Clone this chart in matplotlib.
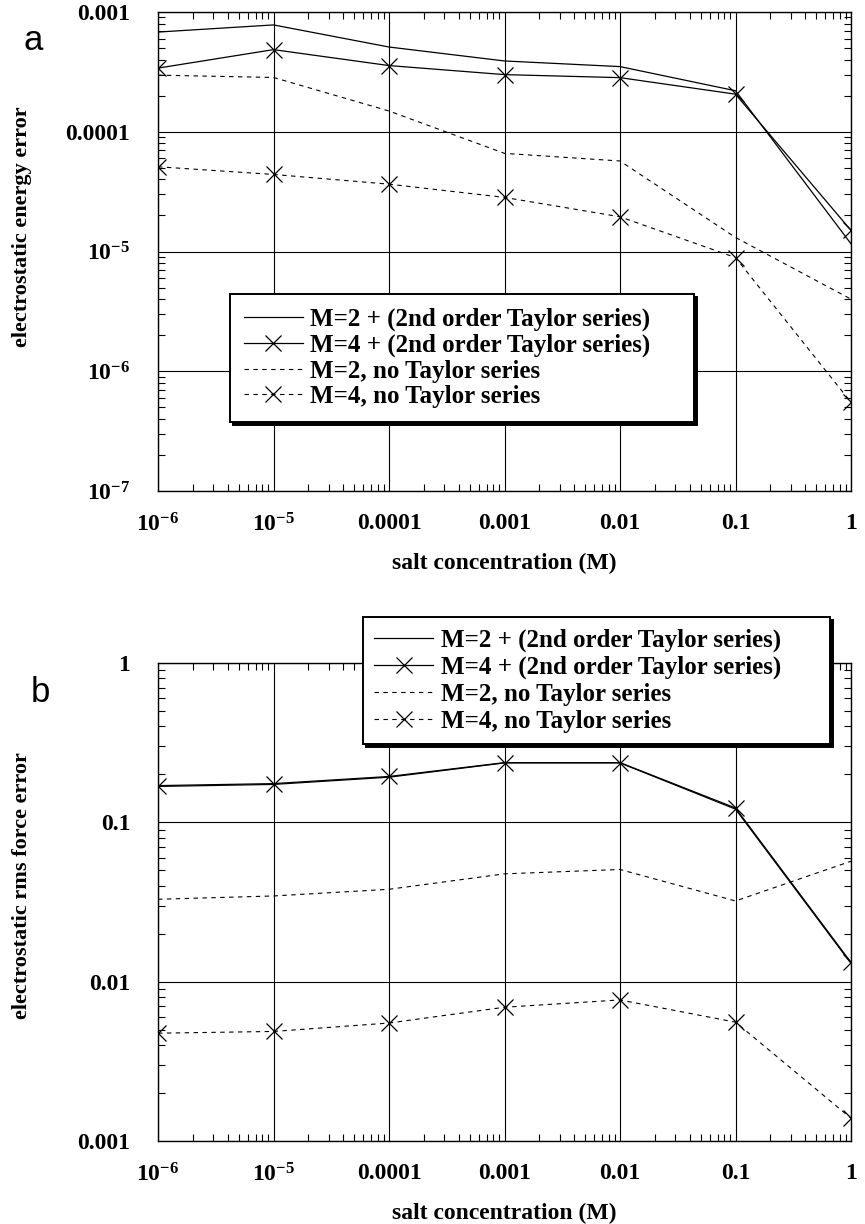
import numpy as np
import matplotlib
matplotlib.use('Agg')
import matplotlib.pyplot as plt
from matplotlib.ticker import FixedLocator, FixedFormatter, LogLocator, NullFormatter

plt.rcParams['mathtext.fontset'] = 'custom'
plt.rcParams['mathtext.rm'] = 'Liberation Serif'
plt.rcParams['mathtext.bf'] = 'Liberation Serif:bold'

# salt concentration (M)
conc = [1e-6, 1e-5, 1e-4, 1e-3, 1e-2, 1e-1, 1.0]
x_labels = [r'$\mathbf{10^{-6}}$', r'$\mathbf{10^{-5}}$', '0.0001', '0.001', '0.01', '0.1', '1']

# panel a: electrostatic energy error
a_m2_taylor = [6.8e-4, 7.8e-4, 5.1e-4, 3.9e-4, 3.5e-4, 2.2e-4, 1.16e-5]
a_m4_taylor = [3.4e-4, 4.85e-4, 3.57e-4, 3.0e-4, 2.83e-4, 2.06e-4, 1.5e-5]
a_m2_plain = [2.97e-4, 2.84e-4, 1.49e-4, 6.6e-5, 5.7e-5, 1.31e-5, 4.0e-6]
a_m4_plain = [5.1e-5, 4.4e-5, 3.65e-5, 2.83e-5, 1.95e-5, 8.9e-6, 5.5e-7]
a_yticks = [1e-7, 1e-6, 1e-5, 1e-4, 1e-3]
a_ylabels = [r'$\mathbf{10^{-7}}$', r'$\mathbf{10^{-6}}$', r'$\mathbf{10^{-5}}$', '0.0001', '0.001']

# panel b: electrostatic rms force error
b_m2_taylor = [0.168, 0.173, 0.192, 0.236, 0.236, 0.121, 0.013]
b_m4_taylor = [0.170, 0.175, 0.194, 0.237, 0.237, 0.123, 0.0132]
b_m2_plain = [0.0329, 0.0345, 0.038, 0.0475, 0.0506, 0.0321, 0.057]
b_m4_plain = [0.00475, 0.00487, 0.0055, 0.00691, 0.00768, 0.00557, 0.00139]
b_yticks = [1e-3, 1e-2, 1e-1, 1]
b_ylabels = ['0.001', '0.01', '0.1', '1']

labels = ['M=2 + (2nd order Taylor series)', 'M=4 + (2nd order Taylor series)',
          'M=2, no Taylor series', 'M=4, no Taylor series']

serif = 'Liberation Serif'
W, H = 865, 1224

fig = plt.figure(figsize=(8.65, 12.24), dpi=100)
ax_a = fig.add_axes([158/W, 1 - 491/H, 693/W, 479/H])
ax_b = fig.add_axes([158/W, 1 - 1141/H, 693/W, 478/H])


def style_axis(ax, yticks, ylabels, ylim):
    ax.set_xscale('log')
    ax.set_yscale('log')
    ax.set_xlim(1e-6, 1)
    ax.set_ylim(*ylim)
    ax.xaxis.set_major_locator(FixedLocator(conc))
    ax.xaxis.set_major_formatter(FixedFormatter(x_labels))
    ax.yaxis.set_major_locator(FixedLocator(yticks))
    ax.yaxis.set_major_formatter(FixedFormatter(ylabels))
    ax.xaxis.set_minor_locator(LogLocator(base=10, subs=np.arange(2, 10)))
    ax.yaxis.set_minor_locator(LogLocator(base=10, subs=np.arange(2, 10)))
    ax.xaxis.set_minor_formatter(NullFormatter())
    ax.yaxis.set_minor_formatter(NullFormatter())
    ax.tick_params(which='both', direction='in', top=True, right=True, width=0.8)
    ax.tick_params(which='major', length=0)
    ax.tick_params(axis='y', which='major', pad=20)
    ax.tick_params(axis='x', which='major', pad=16)
    ax.tick_params(which='minor', length=5)
    for lab in ax.get_xticklabels() + ax.get_yticklabels():
        lab.set_fontfamily(serif)
        lab.set_fontweight('bold')
        lab.set_fontsize(17)
    ax.grid(True, which='major', color='black', linewidth=0.8)
    for s in ax.spines.values():
        s.set_linewidth(1.0)
    ax.set_xlabel('salt concentration (M)', fontfamily=serif, fontweight='bold',
                  fontsize=17, labelpad=12)


def plot_series(ax, s1, s2, s3, s4):
    ax.plot(conc, s1, color='black', lw=0.9, label=labels[0])
    ax.plot(conc, s2, color='black', lw=0.9, marker='x', ms=11, mew=0.9, label=labels[1])
    ax.plot(conc, s3, color='black', lw=0.8, ls=(0, (4, 4)), label=labels[2])
    ax.plot(conc, s4, color='black', lw=0.8, ls=(0, (4, 4)), marker='x', ms=11, mew=0.9,
            label=labels[3])


plot_series(ax_a, a_m2_taylor, a_m4_taylor, a_m2_plain, a_m4_plain)
style_axis(ax_a, a_yticks, a_ylabels, (1e-7, 1e-3))
plot_series(ax_b, b_m2_taylor, b_m4_taylor, b_m2_plain, b_m4_plain)
style_axis(ax_b, b_yticks, b_ylabels, (1e-3, 1))

leg_kw = dict(loc='upper left', mode='expand', frameon=True, fancybox=False, framealpha=1,
              edgecolor='black', shadow={'color': 'black', 'alpha': 1},
              prop={'family': serif, 'weight': 'bold', 'size': 18},
              handlelength=2.35, handletextpad=0.3, borderaxespad=0)

leg_a = ax_a.legend(bbox_to_anchor=(0.104, 0.211, 0.670, 0.2), labelspacing=0.1,
                    borderpad=0.55, **leg_kw)
leg_a.get_frame().set_linewidth(1.4)

leg_b = ax_b.legend(bbox_to_anchor=(0.296, 0.896, 0.674, 0.2), labelspacing=0.16,
                    borderpad=0.45, **leg_kw)
leg_b.get_frame().set_linewidth(1.4)

fig.text(22/W, 1 - 227/H, 'electrostatic energy error', rotation=90, ha='center', va='center',
         fontfamily=serif, fontweight='bold', fontsize=16)
fig.text(22/W, 1 - 886/H, 'electrostatic rms force error', rotation=90, ha='center', va='center',
         fontfamily=serif, fontweight='bold', fontsize=16)
fig.text(33/W, 1 - 40/H, 'a', ha='center', va='center', fontfamily='Liberation Sans', fontsize=25)
fig.text(40/W, 1 - 692/H, 'b', ha='center', va='center', fontfamily='Liberation Sans', fontsize=25)

fig.savefig('out.png', dpi=100)
